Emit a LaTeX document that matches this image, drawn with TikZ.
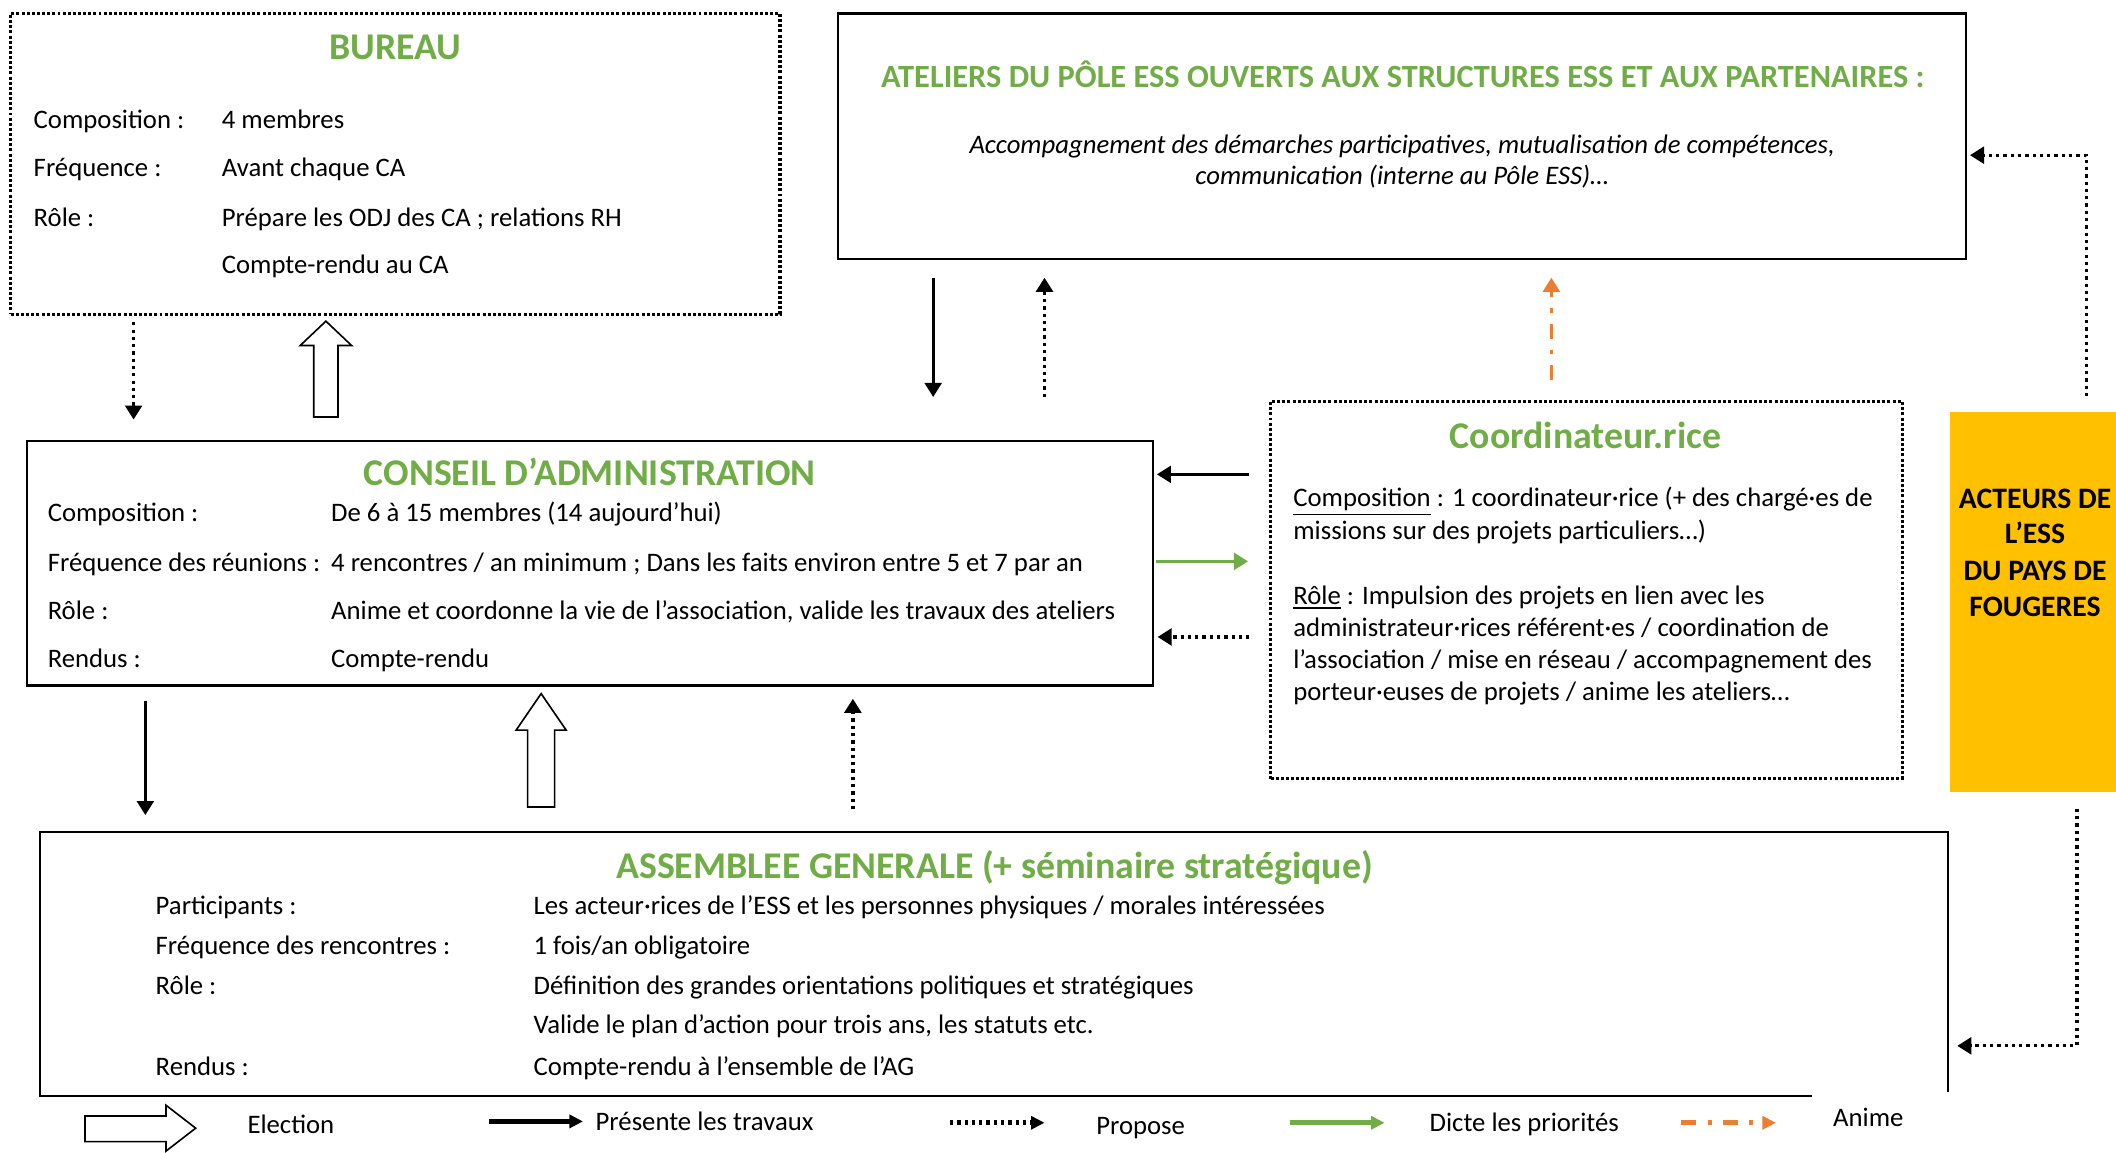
\documentclass[tikz,border=0pt]{standalone}
\usepackage{fontspec}
\setmainfont{Carlito}
\usetikzlibrary{positioning,calc,fit,arrows.meta}
\definecolor{vert}{HTML}{70AD47}
\definecolor{orangeanim}{HTML}{ED7D31}
\definecolor{jaune}{HTML}{FFC000}
\tikzset{box/.style={draw,line width=0.8pt,inner sep=0pt},dbox/.style={box,line width=1.2pt,dash pattern=on 1.1pt off 0.8pt},
  titre/.style={anchor=base,inner sep=0pt,text=vert,font=\bfseries\fontsize{14}{16}\selectfont},
  ligne/.style={anchor=base west,inner sep=0pt,font=\fontsize{9.9}{12}\selectfont},
  pres/.style={-{Triangle[length=5.2pt,width=6.2pt]},line width=1.1pt},
  prop/.style={pres,line width=1.2pt,dash pattern=on 1.2pt off 1.5pt},
  dicte/.style={pres,vert},
  anime/.style={pres,orangeanim,dash pattern=on 5.5pt off 4.2pt on 1.5pt off 4.2pt},
  elec/.style={draw,line width=0.6pt,fill=white},
  leg/.style={line width=1.7pt,-{Triangle[length=5pt,width=4.8pt]}}}

\begin{document}
\begin{tikzpicture}[x=0.5pt,y=-0.5pt]
          \useasboundingbox (0,0) rectangle (1568,854);

          % boxes
          \node (bur) [dbox,fit={(8,10) (578,233)}] {};
          \node (ate) [box,fit={(621,10) (1457,192)}] {};
          \node (ca) [box,fit={(20,326.5) (854.5,508)}] {};
          \node (coo) [dbox,fit={(941.5,297.5) (1409.5,577)}] {};
          \node (act) [fill=jaune,inner sep=0pt,fit={(1445,305) (1568,587)}] {};
          \node (ag) [inner sep=0pt,fit={(30,617) (1443,812)}] {};
          \draw[line width=0.8pt] ($(ag.south west)+(1313,0)$) -| (ag.north west) -| ($(ag.south east)+(0,-3)$);

          % titles
          \node (t-bur) [titre] at (293,44) {BUREAU};
          \node (t-ate) [titre,font=\bfseries\fontsize{12}{14}\selectfont] at (1039.5,64.7) {ATELIERS DU PÔLE ESS OUVERTS AUX STRUCTURES ESS ET AUX PARTENAIRES :};
          \node (t-ca) [titre] at (437,360) {CONSEIL D’ADMINISTRATION};
          \node (t-coo) [titre] at (1175,332) {Coordinateur.rice};
          \node (t-ag) [titre] at (737,650.8) {ASSEMBLEE GENERALE (+ séminaire stratégique)};

          % bureau
          \foreach \y/\a/\b [count=\i] in {95/Composition :/4 membres, 131/Fréquence :/Avant chaque CA, 167.5/Rôle :/Prépare les ODJ des CA ; relations RH}
          {\node (bur-a\i) [ligne] at (24.6,\y) {\a};
            \node (bur-b\i) [ligne] at (164,\y) {\b};}
          \node (bur-b4) [ligne] at (164,203) {Compte-rendu au CA};

          % ateliers
          \node (ate-1) [ligne,anchor=base,font=\itshape\fontsize{9.9}{12}\selectfont] at (1039,114) {Accompagnement des démarches participatives, mutualisation de compétences,};
          \node (ate-2) [ligne,anchor=base,font=\itshape\fontsize{9.9}{12}\selectfont] at (1039,137) {communication (interne au Pôle ESS)…};

          % conseil
          \foreach \y/\a/\b [count=\i] in {386.6/Composition :/De 6 à 15 membres (14 aujourd’hui), 423.6/Fréquence des réunions :/{4 rencontres / an minimum ; Dans les faits environ entre 5 et 7 par an}, 459.4/Rôle :/{Anime et coordonne la vie de l’association, valide les travaux des ateliers}, 495/Rendus :/Compte-rendu}
          {\node (ca-a\i) [ligne] at (35,\y) {\a};
            \node (ca-b\i) [ligne] at (245,\y) {\b};}

          % coordinateur
          \foreach \y/\t [count=\i] in {375.5/{\underline{Composition} : 1 coordinateur·rice (+ des chargé·es de}, 399.7/{missions sur des projets particuliers…)}, 447.6/{\underline{Rôle} : Impulsion des projets en lien avec les}, 471.8/{administrateur·rices référent·es / coordination de}, 495.3/{l’association / mise en réseau / accompagnement des}, 519/{porteur·euses de projets / anime les ateliers…}}
          {\node (coo-\i) [ligne] at (958,\y) {\t};}

          % acteurs
          \foreach \y/\t [count=\i] in {376.6/ACTEURS DE, 403/L’ESS, 429.8/DU PAYS DE, 457/FOUGERES}
          {\node (act-\i) [ligne,anchor=base,font=\bfseries\fontsize{11}{13}\selectfont] at (1508,\y) {\t};}

          % assemblee
          \foreach \y/\a/\b [count=\i] in {677.5/Participants :/{Les acteur·rices de l’ESS et les personnes physiques / morales intéressées}, 707/Fréquence des rencontres :/{1 fois/an obligatoire}, 736.6/Rôle :/Définition des grandes orientations politiques et stratégiques, 796.6/Rendus :/Compte-rendu à l’ensemble de l’AG}
          {\node (ag-a\i) [ligne] at (115,\y) {\a};
            \node (ag-b\i) [ligne] at (395,\y) {\b};}
          \node (ag-b5) [ligne] at (395,766) {Valide le plan d’action pour trois ans, les statuts etc.};

          % arrows
          \draw[prop,shorten <=2.3pt,shorten >=7.4pt] (99,0 |- bur.south) -- (99,0 |- ca.north);
          \draw[elec] (232.5,309) -- ++(0,-53) -- ++(-10,0) -- ++(19,-18) -- ++(19,18) -- ++(-10,0) -- ++(0,53) -- cycle;
          \draw[pres,shorten <=6.5pt,shorten >=15.75pt] (691.5,0 |- ate.south) -- (691.5,0 |- ca.north);
          \draw[prop,shorten <=15.75pt,shorten >=6.5pt] (774,0 |- ca.north) -- (774,0 |- ate.south);
          \draw[anime,shorten <=7.25pt,shorten >=6.5pt] (1149.6,0 |- coo.north) -- (1149.6,0 |- ate.south);
          \draw[pres,shorten <=7.35pt,shorten >=1pt] (coo.west |- 0,351.5) -- (ca.east |- 0,351.5);
          \draw[dicte,shorten <=0.75pt,shorten >=7.75pt] (ca.east |- 0,416) -- (coo.west |- 0,416);
          \draw[prop,shorten <=7.25pt,shorten >=1.25pt] (coo.west |- 0,472) -- (ca.east |- 0,472);
          \draw[prop,shorten <=5.5pt,shorten >=1pt] (1546,0 |- act.north) |- (ate.east |- 0,115);
          \draw[prop,shorten <=6pt,shorten >=3.5pt] (1539,0 |- act.south) |- (ag.east |- 0,775);
          \draw[pres,shorten <=5.35pt,shorten >=6.3pt] (107.7,0 |- ca.south) -- (107.7,0 |- ag.north);
          \draw[elec] (391,598) -- ++(0,-57) -- ++(-8.5,0) -- ++(18.5,-27) -- ++(18.5,27) -- ++(-8.5,0) -- ++(0,57) -- cycle;
          \draw[prop,shorten <=8.5pt,shorten >=4.5pt] (632,0 |- ag.north) -- (632,0 |- ca.south);

          % legend
          \draw[elec] (63,827) -- ++(60,0) -- ++(0,-8) -- ++(22,17) -- ++(-22,17) -- ++(0,-7) -- ++(-60,0) -- cycle;
          \foreach \s/\x/\y in {pres/362/831, prop/704/832, dicte/956/832, anime/1246/832}
          {\coordinate (\s-a) at (\x,\y);
            \coordinate (\s-b) at (\x+70,\y);
            \draw[\s,leg] (\s-a) -- (\s-b);}
          \foreach \x/\y/\t [count=\i] in {183/839.7/Election, 441/837.4/Présente les travaux, 812/840.4/Propose, 1059/838.6/Dicte les priorités, 1358/835/Anime}
          {\node (leg-\i) [ligne] at (\x,\y) {\t};}
\end{tikzpicture}
\end{document}
